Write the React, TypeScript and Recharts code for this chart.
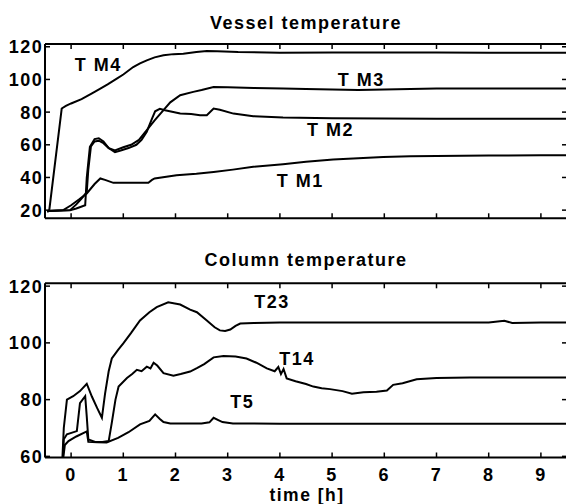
import React from 'react';
import { LineChart, Line, XAxis, YAxis, ReferenceDot } from 'recharts';

// ---------- data ----------
const xTicks = [0, 1, 2, 3, 4, 5, 6, 7, 8, 9];
const vesselYTicks = [20, 40, 60, 80, 100, 120];
const columnYTicks = [60, 80, 100, 120];
const xDomain: [number, number] = [-0.5, 9.5];
const vesselDomain: [number, number] = [15, 121.7];
const columnDomain: [number, number] = [59.6, 121];

const tm4T = [-0.46, -0.42, -0.18, -0.1, 0.0, 0.2, 0.4, 0.56, 0.7, 0.875, 1.0, 1.19, 1.32, 1.45, 1.6, 1.77, 1.96, 2.15, 2.4, 2.6, 2.8, 3.2, 4.0, 5.0, 6.0, 7.0, 8.0, 9.0, 9.5];
const tm4V = [19, 19.5, 82.2, 83.8, 85.3, 88, 91.5, 94.4, 97, 100.5, 103, 107.6, 109.8, 111.7, 113.5, 114.8, 115.5, 115.8, 116.8, 117.4, 117.3, 116.8, 116.4, 116.5, 116.5, 116.5, 116.4, 116.4, 116.4];

const tm3T = [-0.46, -0.02, 0.1, 0.2, 0.3, 0.33, 0.38, 0.45, 0.53, 0.62, 0.72, 0.84, 1.0, 1.15, 1.3, 1.45, 1.6, 1.77, 1.9, 2.09, 2.34, 2.5, 2.73, 3.0, 3.5, 4.06, 4.5, 5.0, 5.5, 6.0, 6.5, 7, 8, 9, 9.5];
const tm3V = [19.5, 20, 23.5, 27, 31, 45, 59, 62, 62.5, 61, 58, 56.5, 58.5, 60, 63, 69, 75, 81.2, 86, 90.3, 92.4, 93.5, 95.4, 95.2, 94.8, 94.4, 94.2, 93.8, 93.6, 93.8, 94.2, 94.4, 94.5, 94.5, 94.5];

const tm2T = [-0.46, -0.02, 0.1, 0.27, 0.3, 0.36, 0.45, 0.53, 0.62, 0.72, 0.84, 0.95, 1.1, 1.25, 1.35, 1.45, 1.55, 1.61, 1.7, 1.8, 2.09, 2.3, 2.47, 2.6, 2.73, 2.85, 3.11, 3.49, 4.06, 5, 6, 7, 8, 9, 9.5];
const tm2V = [19.5, 20, 21, 23, 40, 58.7, 63.5, 64, 62, 58, 55.5, 56.5, 58, 60, 63, 68, 76, 80.5, 82, 81.2, 79.1, 78.8, 78.1, 78.1, 82.2, 81.5, 79.1, 77.5, 76.7, 76.3, 76.1, 76, 76, 76, 76];

const tm1T = [-0.46, -0.15, 0.0, 0.15, 0.3, 0.45, 0.56, 0.65, 0.81, 1.0, 1.2, 1.48, 1.55, 1.6, 2.02, 2.4, 2.73, 3.1, 3.49, 4.06, 4.5, 5.02, 5.5, 5.98, 6.5, 7, 8, 9, 9.5];
const tm1V = [19.5, 20, 23, 26.5, 30.2, 36, 39.4, 38.5, 36.7, 36.7, 36.7, 36.8, 38.5, 39.4, 41.4, 42.3, 43.4, 44.8, 46.5, 48.1, 49.6, 51, 51.8, 52.6, 53, 53.2, 53.4, 53.6, 53.6];

const t23T = [-0.17, -0.14, -0.08, 0.04, 0.17, 0.3, 0.4, 0.5, 0.59, 0.65, 0.72, 0.78, 0.9, 1.0, 1.15, 1.32, 1.5, 1.64, 1.86, 2.09, 2.28, 2.41, 2.6, 2.75, 2.85, 2.95, 3.05, 3.15, 3.24, 3.5, 4, 5, 6, 7, 8, 8.3, 8.45, 9, 9.5];
const t23V = [58, 70, 80, 81.2, 83, 85.6, 81, 77, 73.6, 82, 90, 94.5, 97.5, 99.8, 103.5, 107.9, 110.8, 112.6, 114.3, 113.5, 111.7, 110.8, 107.9, 105.5, 104.4, 104.2, 104.7, 106, 106.8, 107, 107.2, 107.2, 107.2, 107.2, 107.2, 107.8, 107, 107.2, 107.2];

const t14T = [-0.16, -0.14, -0.08, 0.11, 0.17, 0.27, 0.3, 0.33, 0.46, 0.6, 0.72, 0.78, 0.85, 0.91, 1.07, 1.17, 1.26, 1.35, 1.45, 1.52, 1.58, 1.65, 1.77, 1.96, 2.1, 2.28, 2.41, 2.55, 2.73, 2.92, 3.15, 3.36, 3.55, 3.75, 3.9, 3.97, 4.02, 4.07, 4.13, 4.3, 4.5, 4.64, 4.8, 4.96, 5.2, 5.38, 5.6, 5.85, 6.05, 6.17, 6.35, 6.62, 7, 7.64, 8, 9, 9.5];
const t14V = [58, 66, 67.8, 68.9, 78.8, 81.2, 74, 66, 65.1, 65.1, 65.4, 71.9, 80, 84.6, 87.6, 89, 90.5, 90, 91.6, 91, 93, 92, 89.3, 88.4, 89, 89.9, 91.1, 92.5, 94.9, 95.4, 95.2, 94.5, 93, 91, 90, 91.5, 89, 90.8, 87.5, 86.5, 85.5, 84.6, 84, 83.7, 83, 82.1, 82.6, 82.8, 83.2, 85.2, 85.8, 87.2, 87.6, 87.8, 87.8, 87.8, 87.8];

const t5T = [-0.16, -0.12, -0.05, 0.1, 0.3, 0.33, 0.5, 0.68, 0.9, 1.1, 1.32, 1.5, 1.61, 1.7, 1.77, 1.9, 2.09, 2.5, 2.65, 2.73, 2.82, 2.9, 3.1, 4, 5, 6, 7, 8, 9, 9.5];
const t5V = [58, 64, 65.4, 67, 68.8, 65.1, 65, 64.9, 66.5, 68.5, 71.3, 72.5, 74.8, 73.2, 72.1, 71.6, 71.6, 71.6, 72, 73.6, 72.8, 72.1, 71.6, 71.5, 71.5, 71.5, 71.5, 71.5, 71.5, 71.5];

const vesselLabels = ['T M4', 'T M3', 'T M2', 'T M1'];
const vesselLabelT = [0.52, 5.56, 4.97, 4.39];
const vesselLabelV = [108.7, 99.5, 68.9, 37.7];

const columnLabels = ['T23', 'T14', 'T5'];
const columnLabelT = [3.85, 4.33, 3.28];
const columnLabelV = [114.3, 94.3, 79];

const titles = ['Vessel temperature', 'Column temperature'];
const xLabel = 'time [h]';

// ---------- helpers ----------
const zip = (t: number[], v: number[]) => t.map((x, i) => ({ t: x, v: v[i] }));

const FONT = '"Liberation Sans", Arial, Helvetica, sans-serif';
const tickStyle: any = {
  fontSize: 18,
  fontWeight: 'bold',
  fill: '#000',
  fontFamily: FONT,
  letterSpacing: 1.5,
};
const axisLine = { stroke: '#000', strokeWidth: 2 };
const tickLine = { stroke: '#000', strokeWidth: 1.5 };
const blank = () => '';

type PanelProps = {
  height: number;
  marginTop: number;
  bottomAxisHeight: number;
  showXLabels: boolean;
  yDomain: [number, number];
  yTicks: number[];
  series: { t: number; v: number }[][];
  labels: string[];
  labelT: number[];
  labelV: number[];
};

function Panel(p: PanelProps) {
  return (
    <LineChart width={570} height={p.height} margin={{ top: p.marginTop, right: 0, left: 0, bottom: 0 }}>
      <XAxis
        type="number"
        dataKey="t"
        domain={xDomain}
        ticks={xTicks}
        interval={0}
        allowDataOverflow
        height={p.bottomAxisHeight}
        tickSize={-5}
        tickMargin={15.5}
        axisLine={axisLine}
        tickLine={tickLine}
        tick={tickStyle}
        tickFormatter={p.showXLabels ? undefined : blank}
      />
      <XAxis
        xAxisId="top"
        orientation="top"
        type="number"
        dataKey="t"
        domain={xDomain}
        ticks={xTicks}
        interval={0}
        allowDataOverflow
        height={10}
        tickSize={-5}
        axisLine={axisLine}
        tickLine={tickLine}
        tick={tickStyle}
        tickFormatter={blank}
      />
      <YAxis
        type="number"
        domain={p.yDomain}
        ticks={p.yTicks}
        interval={0}
        allowDataOverflow
        width={45}
        tickSize={-5}
        tickMargin={6.8}
        axisLine={axisLine}
        tickLine={tickLine}
        tick={tickStyle}
      />
      <YAxis
        yAxisId="right"
        orientation="right"
        type="number"
        domain={p.yDomain}
        ticks={p.yTicks}
        interval={0}
        allowDataOverflow
        width={3}
        tickSize={-5}
        axisLine={axisLine}
        tickLine={tickLine}
        tick={tickStyle}
        tickFormatter={blank}
      />
      {p.series.map((d, i) => (
        <Line
          key={i}
          data={d}
          dataKey="v"
          type="linear"
          stroke="#000"
          strokeWidth={2}
          dot={false}
          activeDot={false}
          isAnimationActive={false}
        />
      ))}
      {p.labels.map((txt, i) => (
        <ReferenceDot
          key={'l' + i}
          x={p.labelT[i]}
          y={p.labelV[i]}
          r={1}
          fill="none"
          stroke="none"
          label={{
            content: (props: any) => {
              const vb = props.viewBox || {};
              const cx = (vb.x ?? 0) + (vb.width ?? 0) / 2;
              const cy = (vb.y ?? 0) + (vb.height ?? 0) / 2;
              return (
                <text
                  x={cx}
                  y={cy}
                  textAnchor="middle"
                  dominantBaseline="central"
                  fontSize={18}
                  fontWeight="bold"
                  fontFamily={FONT}
                  letterSpacing={1.5}
                  fill="#000"
                >
                  {txt}
                </text>
              );
            },
          }}
        />
      ))}
    </LineChart>
  );
}

export default function App() {
  return (
    <div
      style={{
        position: 'absolute',
        left: 0,
        top: 0,
        width: 566,
        height: 504,
        overflow: 'hidden',
        background: '#fff',
      }}
    >
      <div style={{ position: 'absolute', left: 0, top: 0 }}>
        <Panel
          height={240}
          marginTop={34}
          bottomAxisHeight={21.7}
          showXLabels={false}
          yDomain={vesselDomain}
          yTicks={vesselYTicks}
          series={[zip(tm4T, tm4V), zip(tm3T, tm3V), zip(tm2T, tm2V), zip(tm1T, tm1V)]}
          labels={vesselLabels}
          labelT={vesselLabelT}
          labelV={vesselLabelV}
        />
      </div>
      <div style={{ position: 'absolute', left: 0, top: 240 }}>
        <Panel
          height={264}
          marginTop={33.3}
          bottomAxisHeight={46.5}
          showXLabels={true}
          yDomain={columnDomain}
          yTicks={columnYTicks}
          series={[zip(t23T, t23V), zip(t14T, t14V), zip(t5T, t5V)]}
          labels={columnLabels}
          labelT={columnLabelT}
          labelV={columnLabelV}
        />
      </div>
      <svg
        width={566}
        height={504}
        style={{ position: 'absolute', left: 0, top: 0, pointerEvents: 'none' }}
      >
        <g fontFamily={FONT} fontWeight="bold" fontSize={18} fill="#000" letterSpacing={1.5} textAnchor="middle">
          <text x={306} y={28.5}>{titles[0]}</text>
          <text x={306} y={266}>{titles[1]}</text>
          <text x={307} y={501} fontSize={17.5}>{xLabel}</text>
        </g>
      </svg>
    </div>
  );
}
